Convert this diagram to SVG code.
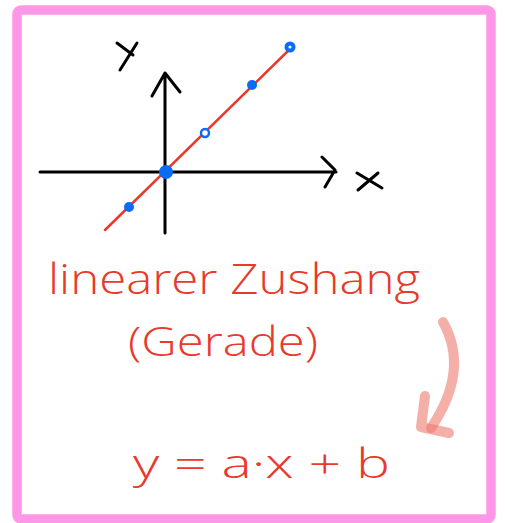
<svg xmlns="http://www.w3.org/2000/svg" width="505" height="523" viewBox="0 0 505 523">
<style>
.ink{fill:none;stroke:#000;stroke-width:3;stroke-linecap:round;stroke-linejoin:round}
.red{fill:none;stroke:#e8392a;stroke-width:2.5;stroke-linecap:round}
.pt{fill:#0a6cf5}
.hand{font-family:"Open Sans","Liberation Sans",sans-serif;font-weight:300;fill:#e8392a}
</style>
<rect width="505" height="523" fill="#fff"/>
<rect x="17" y="10" width="474" height="509" rx="4" fill="none" stroke="#fe98e6" stroke-width="9.5"/>
<g id="axes">
<path class="ink" d="M40 172 L336 172 M322 157 L335 170 L325 187"/>
<path class="ink" d="M165 233 L165 73 M152 96 L165 73 L180 92"/>
<path class="ink" d="M117 43 L133 55 M137 43 L120 70"/>
<path class="ink" d="M357 173 L382 188 M378 173 L358 190"/>
</g>
<g id="line">
<line class="red" x1="105" y1="230" x2="292" y2="47"/>
</g>
<g id="points">
<circle class="pt" cx="290" cy="47" r="5.5"/>
<circle cx="290" cy="47" r="1.5" fill="#fff"/>
<circle class="pt" cx="252" cy="85" r="5"/>
<circle cx="205" cy="133" r="4" fill="#fff" stroke="#0a6cf5" stroke-width="2.5"/>
<circle class="pt" cx="166" cy="172" r="7"/>
<circle class="pt" cx="129" cy="207" r="5"/>
</g>
<g id="label">
<text class="hand" x="48" y="294" font-size="42" textLength="372" lengthAdjust="spacingAndGlyphs">linearer Zushang</text>
<text class="hand" x="128" y="356" font-size="40" textLength="190" lengthAdjust="spacingAndGlyphs">(Gerade)</text>
</g>
<g id="arrow" fill="none" stroke="#ef7a70" stroke-opacity="0.6" stroke-width="10" stroke-linecap="round" stroke-linejoin="round">
<path d="M443 322 Q470 370 431 428"/>
<path d="M425 396 L421 427 L449 433"/>
</g>
<g id="formula">
<text class="hand" x="133" y="478" font-size="40" textLength="257" lengthAdjust="spacingAndGlyphs">y = a·x + b</text>
</g>
</svg>
